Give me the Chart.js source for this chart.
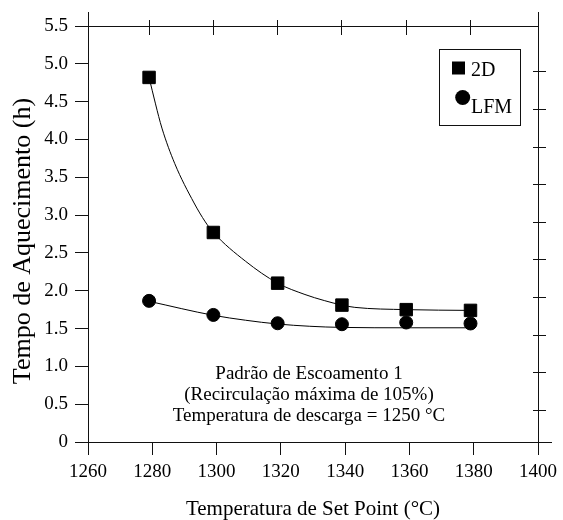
<!DOCTYPE html>
<html><head><meta charset="utf-8">
<script src="https://cdn.jsdelivr.net/npm/chart.js@4"></script>
<style>html,body{margin:0;padding:0;background:#fff}canvas{display:block}</style>
</head><body>
<canvas id="c" width="563" height="520"></canvas>
<script>
// ---- data ----
const seriesNames = ['2D', 'LFM'];
const temps = [1279, 1299, 1319, 1339, 1359, 1379];
const tempo2D = [4.82, 2.77, 2.10, 1.81, 1.75, 1.74];
const tempoLFM = [1.866, 1.68, 1.57, 1.557, 1.58, 1.567];
// fitted curves
const fit2DTemps = [1279, 1281, 1283, 1287, 1293, 1296.5, 1299, 1309, 1319, 1327.5, 1333.5, 1339, 1343, 1359, 1379];
const fit2D = [4.82, 4.47, 4.15, 3.68, 3.16, 2.91, 2.77, 2.39, 2.10, 1.95, 1.87, 1.81, 1.78, 1.75, 1.74];
const fitLFMTemps = [1279, 1299, 1309, 1319, 1329, 1339, 1359, 1379];
const fitLFM = [1.86, 1.675, 1.61, 1.56, 1.53, 1.515, 1.51, 1.51];
const xTicks = [1260, 1280, 1300, 1320, 1340, 1360, 1380, 1400];
const yTicks = [0, 0.5, 1.0, 1.5, 2.0, 2.5, 3.0, 3.5, 4.0, 4.5, 5.0, 5.5];
const topTicks = [1280, 1300, 1320, 1340, 1360, 1380];
const rightTicks = [0.5, 1.0, 1.5, 2.0, 2.5, 3.0, 3.5, 4.0, 4.5, 5.0];
const xTitle = 'Temperatura de Set Point (°C)';
const yTitle = 'Tempo de Aquecimento (h)';
const noteLines = ['Padrão de Escoamento 1', '(Recirculação máxima de 105%)', 'Temperatura de descarga = 1250 °C'];

const FONT = 'Liberation Serif, Times New Roman, serif';
Chart.defaults.font.family = FONT;
Chart.defaults.color = '#000';

const pts = (xs, ys) => xs.map((x, i) => ({x, y: ys[i]}));
const al = v => Math.round(v - 0.5) + 0.5;

const extras = {
  id: 'extras',
  afterDraw(chart) {
    const {ctx, chartArea: a, scales} = chart;
    ctx.save();
    ctx.strokeStyle = '#111';
    ctx.lineWidth = 1;
    const L = al(a.left), R = al(a.right), B = al(a.bottom);
    const line = (x1, y1, x2, y2) => { ctx.beginPath(); ctx.moveTo(x1, y1); ctx.lineTo(x2, y2); ctx.stroke(); };
    // frame extensions
    line(L, a.top - 14, L, a.top);
    line(R, a.top - 14, R, a.top);
    line(a.right, B, a.right + 14, B);
    // crossing ticks on top and right axes
    scales.x2.ticks.forEach(t => { const p = al(scales.x2.getPixelForValue(t.value)); line(p, a.top - 6, p, a.top + 9); });
    scales.y2.ticks.forEach(t => { const p = al(scales.y2.getPixelForValue(t.value)); line(a.right - 5, p, a.right + 8, p); });
    // legend
    const bx = a.right - 99, by = a.top + 23;
    ctx.strokeRect(al(bx), al(by), 81, 76);
    ctx.fillStyle = '#000';
    ctx.fillRect(bx + 13, by + 12.5, 13, 13);
    ctx.beginPath(); ctx.arc(bx + 23.7, by + 48.5, 7.5, 0, Math.PI * 2); ctx.fill();
    ctx.font = '20px ' + FONT;
    ctx.textAlign = 'left'; ctx.textBaseline = 'alphabetic';
    ctx.fillText(chart.data.datasets[0].label, bx + 32, by + 27);
    ctx.fillText(chart.data.datasets[1].label, bx + 32, by + 64);
    // annotation
    ctx.font = '19px ' + FONT;
    ctx.textAlign = 'center';
    const cx = (a.left + a.right) / 2 - 4;
    const base = [a.bottom - 63.5, a.bottom - 42, a.bottom - 21];
    noteLines.forEach((s, i) => ctx.fillText(s, cx, base[i]));
    // y-axis title
    ctx.font = '26px ' + FONT;
    ctx.translate(29.5, (a.top + a.bottom) / 2 + 7);
    ctx.rotate(-Math.PI / 2);
    ctx.textAlign = 'center';
    ctx.fillText(yTitle, 0, 0);
    ctx.restore();
  }
};

new Chart(document.getElementById('c'), {
  type: 'scatter',
  data: {
    datasets: [
      {label: seriesNames[0], data: pts(temps, tempo2D), pointStyle: 'rect', pointRadius: 8.8, pointBorderWidth: 1,
       backgroundColor: '#000', borderColor: '#000', showLine: false, order: 0},
      {label: seriesNames[1], data: pts(temps, tempoLFM), pointStyle: 'circle', pointRadius: 6.5, pointBorderWidth: 1,
       backgroundColor: '#000', borderColor: '#000', showLine: false, order: 0},
      {label: 'fit 2D', data: pts(fit2DTemps, fit2D), showLine: true, pointRadius: 0, borderColor: '#000', borderWidth: 1,
       cubicInterpolationMode: 'monotone', order: 1},
      {label: 'fit LFM', data: pts(fitLFMTemps, fitLFM), showLine: true, pointRadius: 0, borderColor: '#000', borderWidth: 1,
       cubicInterpolationMode: 'monotone', order: 1}
    ]
  },
  options: {
    responsive: false,
    devicePixelRatio: 1,
    animation: false,
    layout: {padding: 0},
    plugins: {legend: {display: false}, tooltip: {enabled: false}},
    scales: {
      x: {
        type: 'linear', position: 'bottom', min: 1260, max: 1400,
        afterBuildTicks: s => { s.ticks = xTicks.map(v => ({value: v})); },
        afterFit: s => { s.height = 78; },
        ticks: {font: {size: 19}, color: '#000', padding: 6, maxRotation: 0, callback: v => String(v)},
        grid: {drawOnChartArea: false, drawTicks: true, tickLength: 13, color: '#111', lineWidth: 1},
        border: {display: true, color: '#111', width: 1},
        title: {display: true, text: xTitle, font: {size: 21, lineHeight: 1}, color: '#000', padding: 0}
      },
      y: {
        type: 'linear', position: 'left', min: 0, max: 5.5,
        afterBuildTicks: s => { s.ticks = yTicks.map(v => ({value: v})); },
        afterFit: s => { s.width = 88; },
        ticks: {font: {size: 19}, color: '#000', padding: 7, callback: v => v === 0 ? '0' : v.toFixed(1)},
        grid: {drawOnChartArea: false, drawTicks: true, tickLength: 13, color: '#111', lineWidth: 1},
        border: {display: true, color: '#111', width: 1},
        title: {display: false, text: yTitle}
      },
      x2: {
        type: 'linear', position: 'top', min: 1261, max: 1401,
        afterBuildTicks: s => { s.ticks = topTicks.map(v => ({value: v})); },
        afterFit: s => { s.height = 26; },
        ticks: {display: false},
        grid: {drawOnChartArea: false, drawTicks: false, color: '#111'},
        border: {display: true, color: '#111', width: 1}
      },
      y2: {
        type: 'linear', position: 'right', min: 0.083, max: 5.607,
        afterBuildTicks: s => { s.ticks = rightTicks.map(v => ({value: v})); },
        afterFit: s => { s.width = 22; },
        ticks: {display: false},
        grid: {drawOnChartArea: false, drawTicks: false, color: '#111'},
        border: {display: true, color: '#111', width: 1}
      }
    }
  },
  plugins: [extras]
});
</script>
</body></html>
